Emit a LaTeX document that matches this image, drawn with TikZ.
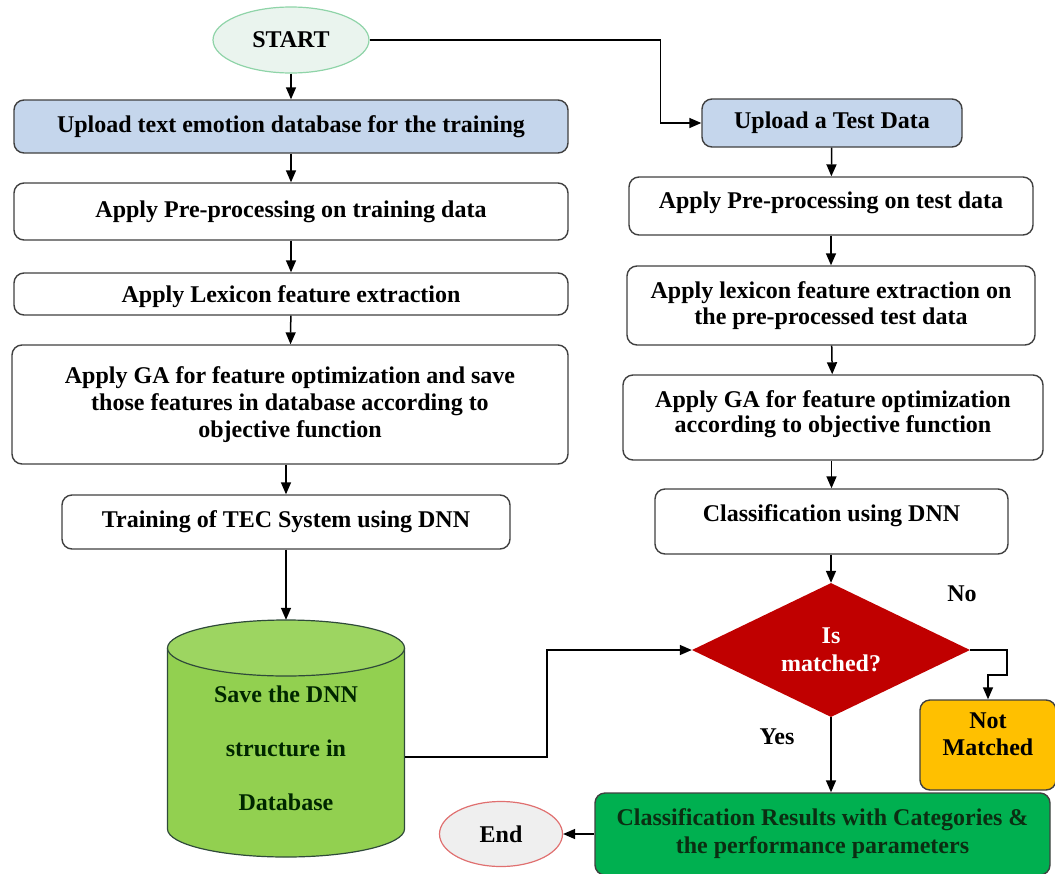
\documentclass[tikz,border=0pt]{standalone}
\usepackage{fontspec}
\setmainfont{Liberation Serif}
\usetikzlibrary{arrows.meta,shapes.geometric,calc}

\definecolor{startfill}{HTML}{EAF4EE}
\definecolor{startline}{HTML}{8FD4A8}
\definecolor{bluefill}{HTML}{C5D6EC}
\definecolor{boxline}{HTML}{404040}
\definecolor{dbfill}{HTML}{92D050}
\definecolor{dbtop}{HTML}{9DD561}
\definecolor{dbline}{HTML}{2F4A3A}
\definecolor{decfill}{HTML}{C00000}
\definecolor{warnfill}{HTML}{FFC000}
\definecolor{okfill}{HTML}{00B050}
\definecolor{oktext}{HTML}{0B2E12}
\definecolor{endfill}{HTML}{EFEFEF}
\definecolor{endline}{HTML}{E07070}

\newcommand{\lift}[2]{\raisebox{#1}[\height][\depth]{#2}}

\tikzset{
  every node/.style={font=\bfseries\fontsize{24}{26}\selectfont, align=center, inner sep=0pt},
  procbox/.style={draw=boxline, line width=1.4pt, rounded corners=10pt, fill=white},
  inbox/.style={procbox, fill=bluefill},
  terminal/.style={ellipse, line width=1.2pt},
  arr/.style={line width=1.5pt, -{Triangle[length=12pt,width=10pt]}},
}

\begin{document}
\begin{tikzpicture}[x=1pt,y=-1pt]
\useasboundingbox (0,0) rectangle (1055,873);

% start / end terminals
\node[terminal, draw=startline, fill=startfill, minimum width=156, minimum height=66] (start) at (291,40) {START};
\node[terminal, draw=endline, fill=endfill, minimum width=123, minimum height=65] (finish) at (501,834) {End};

% training branch
\node[inbox, minimum width=554, minimum height=53] (l1) at (291,126.5) {Upload text emotion database for the training};
\node[procbox, minimum width=554, minimum height=57] (l2) at (291,211.5) {Apply Pre-processing on training data};
\node[procbox, minimum width=554, minimum height=42] (l3) at (291,294) {\lift{-3pt}{Apply Lexicon feature extraction}};
\node[procbox, minimum width=556, minimum height=119, font=\bfseries\fontsize{24}{27}\selectfont] (l4) at (290,404.5) {Apply GA for feature optimization and save\\ those features in database according to\\ objective function};
\node[procbox, minimum width=448, minimum height=54] (l5) at (286,522) {Training of TEC System using DNN};

% database cylinder
\fill[dbfill] (167.5,648) -- (167.5,829) arc[start angle=180, end angle=0, x radius=118.5, y radius=28] -- (404.5,648) -- cycle;
\draw[dbline, line width=1.2pt] (167.5,648) -- (167.5,829) arc[start angle=180, end angle=0, x radius=118.5, y radius=28] -- (404.5,648);
\draw[dbline, line width=1.2pt, fill=dbtop] (286,648) ellipse [x radius=118.5, y radius=28];
\node[minimum width=237, minimum height=237] (db) at (286,738.5) {};
\node[text=black!85!green, font=\bfseries\fontsize{24}{54}\selectfont] (dbtext) at (286,748) {Save the DNN\\ structure in\\ Database};

% test branch
\node[inbox, minimum width=260, minimum height=48] (r1) at (832,123) {Upload a Test Data};
\node[procbox, minimum width=404, minimum height=58] (r2) at (831,206) {\lift{3pt}{Apply Pre-processing on test data}};
\node[procbox, minimum width=408, minimum height=79] (r3) at (831,305.5) {Apply lexicon feature extraction on\\ the pre-processed test data};
\node[procbox, minimum width=420, minimum height=85, font=\bfseries\fontsize{24}{25}\selectfont] (r4) at (833,417.5) {\lift{3pt}{\begin{tabular}{@{}c@{}}Apply GA for feature optimization\\ according to objective function\end{tabular}}};
\node[procbox, minimum width=353, minimum height=65] (r5) at (831.5,521.5) {\lift{6pt}{Classification using DNN}};

% decision and outcomes
\node[diamond, aspect=2, fill=decfill, text=white, minimum width=278, minimum height=134, font=\bfseries\fontsize{24}{28}\selectfont] (dec) at (831,650) {Is\\ matched?};
\node[procbox, fill=warnfill, minimum width=136, minimum height=90, font=\bfseries\fontsize{24}{27}\selectfont] (nm) at (988,745) {\lift{8pt}{\begin{tabular}{@{}c@{}}Not\\ Matched\end{tabular}}};
\node[procbox, fill=okfill, text=oktext, minimum width=455, minimum height=82, font=\bfseries\fontsize{24}{28}\selectfont] (res) at (822.5,834) {Classification Results with Categories \&\\ the performance parameters};

\node (nolbl) at (962,594) {No};
\node (yeslbl) at (777,737) {Yes};

% connectors
\draw[arr] (start) -- (l1);
\draw[arr] (l1) -- (l2);
\draw[arr] (l2) -- (l3);
\draw[arr] (l3) -- (l4);
\draw[arr] (l4.south -| l5.north) -- (l5);
\draw[arr] (l5.south) -- (db.north);

\draw[arr] (start.east) -| ($(r1.west)+(-41,0)$) -- (r1.west);
\draw[arr] (r1) -- (r2);
\draw[arr] (r2) -- (r3);
\draw[arr] (r3) -- (r4);
\draw[arr] (r4.south -| r5.north) -- (r5);
\draw[arr] (r5.south -| dec.north) -- (dec.north);

\draw[arr] ($(db.east)+(0,18.5)$) -| ($(dec.west)+(-145,0)$) -- (dec.west);
\draw[arr] (dec.east) -- ++(37,0) -- ++(0,25) -| (nm.north);
\draw[arr] (dec.south) -- (res.north -| dec.south);
\draw[arr] (res.west) -- (finish.east);
\end{tikzpicture}
\end{document}
